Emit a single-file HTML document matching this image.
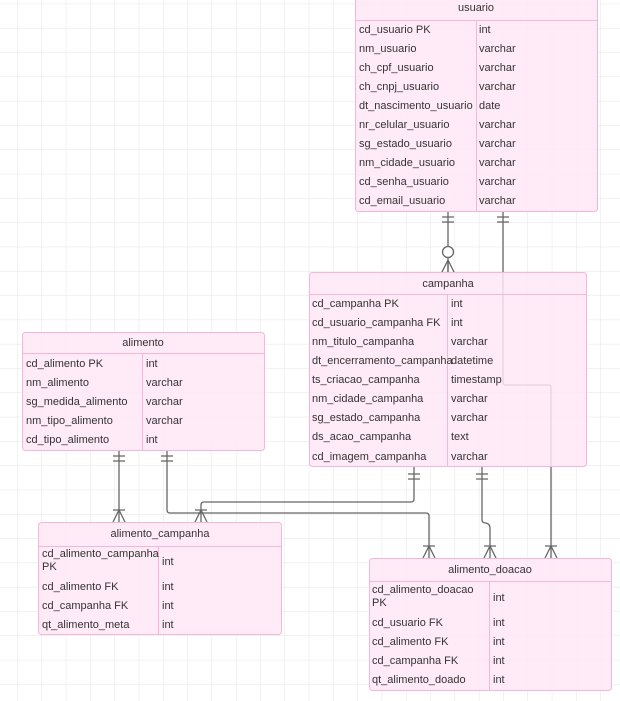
<!DOCTYPE html>
<html><head><meta charset="utf-8"><style>
html,body{margin:0;padding:0;background:#fff;width:620px;height:701px;overflow:hidden}
svg text{font-family:"Liberation Sans",sans-serif;font-size:11px;fill:#333}
</style></head><body>
<svg width="620" height="701" xmlns="http://www.w3.org/2000/svg">
<defs>
<pattern id="g" x="17.2" y="3.7" width="24.3" height="24.3" patternUnits="userSpaceOnUse">
<path d="M0 0V24.3M0 0H24.3" stroke="#e4e4e4" stroke-width="1" fill="none"/>
</pattern>
</defs>
<rect width="620" height="701" fill="url(#g)"/>
<g stroke="#666" stroke-width="1.3" fill="none">
<!-- usuario->campanha -->
<path d="M448 211V272"/><path d="M442 217H454M442 222H454"/>
<circle cx="448" cy="252" r="5.5" fill="#fff"/>
<path d="M442 272L448 260L454 272M448 260V272"/>
<!-- usuario->alimento_doacao -->
<path d="M503 211V382Q503 385 506 385H548Q551 385 551 388V558"/>
<path d="M497 217H509M497 222H509"/>
<path d="M545 558L551 546L557 558M545 546H557"/>
<!-- alimento->alimento_campanha -->
<path d="M119 450V522"/><path d="M113 456H125M113 461H125"/>
<path d="M113 522L119 510L125 522M113 510H125"/>
<!-- alimento->alimento_doacao -->
<path d="M167 450V510Q167 513 170 513H426Q429 513 429 516V558"/>
<path d="M161 456H173M161 461H173"/>
<path d="M423 558L429 546L435 558M423 546H435"/>
<!-- campanha->alimento_campanha -->
<path d="M414 466V499Q414 502 411 502H204Q201 502 201 505V522"/>
<path d="M408 474H420M408 479H420"/>
<path d="M195 522L201 510L207 522M195 510H207"/>
<!-- campanha->alimento_doacao -->
<path d="M482 466V520Q482 523 486 523Q490 524 490 528V558"/>
<path d="M476 474H488M476 479H488"/>
<path d="M484 558L490 546L496 558M484 546H496"/>
</g>
<g fill="#ffe8f6" fill-opacity="0.85" stroke="#f6b6d7" stroke-width="1">
<rect x="355.5" y="-5" width="242" height="216.5" rx="3"/>
<rect x="309.5" y="272.5" width="277" height="194" rx="3"/>
<rect x="22.5" y="332.5" width="242" height="118" rx="3"/>
<rect x="38.5" y="522.5" width="243" height="112" rx="3"/>
<rect x="369.5" y="558.5" width="242" height="132" rx="3"/>
</g>
<g stroke="#f6b6d7" stroke-width="1">
<path d="M355 20.5H597M476.5 21V211"/>
<path d="M309 294.5H586M447.5 295V466"/>
<path d="M22 353.5H264M142.5 354V450"/>
<path d="M38 546.5H281M158.5 547V634"/>
<path d="M369 581.5H611M489.5 582V690"/>
</g>
<g>
<text x="476" y="11" text-anchor="middle">usuario</text>
<text x="359" y="33">cd_usuario PK</text><text x="479" y="33">int</text>
<text x="359" y="52">nm_usuario</text><text x="479" y="52">varchar</text>
<text x="359" y="71">ch_cpf_usuario</text><text x="479" y="71">varchar</text>
<text x="359" y="90">ch_cnpj_usuario</text><text x="479" y="90">varchar</text>
<text x="359" y="109">dt_nascimento_usuario</text><text x="479" y="109">date</text>
<text x="359" y="128">nr_celular_usuario</text><text x="479" y="128">varchar</text>
<text x="359" y="147">sg_estado_usuario</text><text x="479" y="147">varchar</text>
<text x="359" y="166">nm_cidade_usuario</text><text x="479" y="166">varchar</text>
<text x="359" y="185">cd_senha_usuario</text><text x="479" y="185">varchar</text>
<text x="359" y="204">cd_email_usuario</text><text x="479" y="204">varchar</text>

<text x="448" y="287" text-anchor="middle">campanha</text>
<text x="312" y="307">cd_campanha PK</text><text x="451" y="307">int</text>
<text x="312" y="326">cd_usuario_campanha FK</text><text x="451" y="326">int</text>
<text x="312" y="345">nm_titulo_campanha</text><text x="451" y="345">varchar</text>
<text x="312" y="364">dt_encerramento_campanha</text><text x="451" y="364">datetime</text>
<text x="312" y="383">ts_criacao_campanha</text><text x="451" y="383">timestamp</text>
<text x="312" y="402">nm_cidade_campanha</text><text x="451" y="402">varchar</text>
<text x="312" y="421">sg_estado_campanha</text><text x="451" y="421">varchar</text>
<text x="312" y="440">ds_acao_campanha</text><text x="451" y="440">text</text>
<text x="312" y="460">cd_imagem_campanha</text><text x="451" y="460">varchar</text>

<text x="143" y="346" text-anchor="middle">alimento</text>
<text x="26" y="367">cd_alimento PK</text><text x="146" y="367">int</text>
<text x="26" y="386">nm_alimento</text><text x="146" y="386">varchar</text>
<text x="26" y="405">sg_medida_alimento</text><text x="146" y="405">varchar</text>
<text x="26" y="424">nm_tipo_alimento</text><text x="146" y="424">varchar</text>
<text x="26" y="443">cd_tipo_alimento</text><text x="146" y="443">int</text>

<text x="160" y="537" text-anchor="middle">alimento_campanha</text>
<text x="42" y="557">cd_alimento_campanha</text><text x="42" y="570">PK</text><text x="162" y="565">int</text>
<text x="42" y="590">cd_alimento FK</text><text x="162" y="590">int</text>
<text x="42" y="609">cd_campanha FK</text><text x="162" y="609">int</text>
<text x="42" y="628">qt_alimento_meta</text><text x="162" y="628">int</text>

<text x="490" y="573" text-anchor="middle">alimento_doacao</text>
<text x="372" y="593">cd_alimento_doacao</text><text x="372" y="606">PK</text><text x="493" y="601">int</text>
<text x="372" y="626">cd_usuario FK</text><text x="493" y="626">int</text>
<text x="372" y="645">cd_alimento FK</text><text x="493" y="645">int</text>
<text x="372" y="664">cd_campanha FK</text><text x="493" y="664">int</text>
<text x="372" y="683">qt_alimento_doado</text><text x="493" y="683">int</text>
</g>
</svg>
</body></html>
